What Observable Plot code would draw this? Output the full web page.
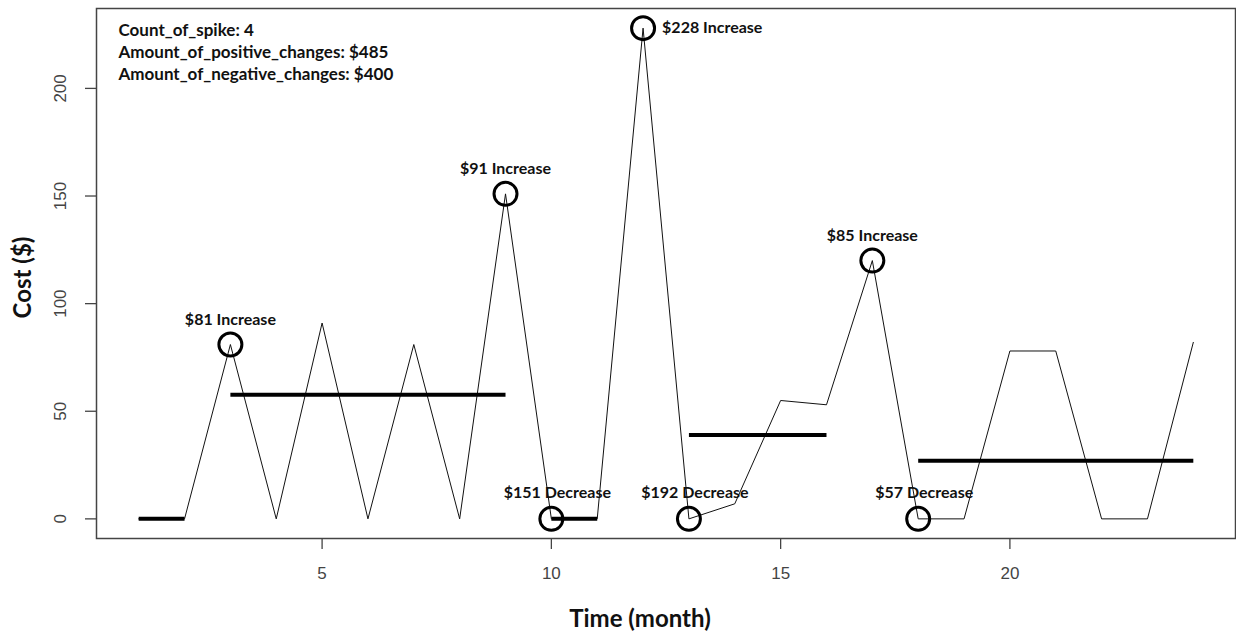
<!DOCTYPE html>
<html>
<head>
<meta charset="utf-8">
<script src="https://cdn.jsdelivr.net/npm/d3@7"></script>
<script src="https://cdn.jsdelivr.net/npm/@observablehq/plot@0.6"></script>
<style>
  html, body { margin: 0; padding: 0; background: #fff; }
  #chart svg { display: block; }
</style>
</head>
<body>
<div id="chart"></div>
<script>
// ---- data ----
const months = [1,2,3,4,5,6,7,8,9,10,11,12,13,14,15,16,17,18,19,20,21,22,23,24];
const cost   = [0,0,81,0,91,0,81,0,151,0,0,228,0,7,55,53,120,0,0,78,78,0,0,82];

const segStart = [1, 3, 10, 13, 18];
const segEnd   = [2, 9, 11, 16, 24];
const segMean  = [0, 57.7, 0, 39, 27];

const incMonth = [3, 9, 12, 17];
const incCost  = [81, 151, 228, 120];
const incLabel = ["$81 Increase", "$91 Increase", "$228 Increase", "$85 Increase"];

const decMonth = [10, 13, 18];
const decCost  = [0, 0, 0];
const decLabel = ["$151 Decrease", "$192 Decrease", "$57 Decrease"];

const summaryLines = [
  "Count_of_spike: 4",
  "Amount_of_positive_changes: $485",
  "Amount_of_negative_changes: $400"
];

const xTicks = [5, 10, 15, 20];
const yTicks = [0, 50, 100, 150, 200];
const xTitle = "Time (month)";
const yTitle = "Cost ($)";

// ---- tables ----
const series = months.map((m, i) => ({month: m, cost: cost[i]}));
const segments = segStart.map((s, i) => ({x1: s, x2: segEnd[i], y: segMean[i]}));
const incs = incMonth.map((m, i) => ({month: m, cost: incCost[i], label: incLabel[i]}));
const decs = decMonth.map((m, i) => ({month: m, cost: decCost[i], label: decLabel[i]}));

// R-style 4% padding
const xPad = (d3.max(months) - d3.min(months)) * 0.04;
const yPad = (d3.max(cost) - d3.min(cost)) * 0.04;

const labelFont = {fontFamily: "Lato, 'Open Sans', sans-serif", fontWeight: "bold", fontSize: 16, fill: "#111"};
const summaryFont = {...labelFont, fontSize: 17};
const titleFont = {fontFamily: "Lato, 'Open Sans', sans-serif", fontWeight: "bold", fontSize: 24, fill: "#111"};
const tickFont = {fontFamily: "'Liberation Sans', Arial, sans-serif", fontSize: 17, fill: "#444"};

const nearTop = d => d.cost > 200;

const chart = Plot.plot({
  width: 1236,
  height: 632,
  marginTop: 8,
  marginBottom: 94,
  marginLeft: 96,
  marginRight: 1,
  x: {domain: [d3.min(months) - xPad, d3.max(months) + xPad], axis: null},
  y: {domain: [d3.min(cost) - yPad, d3.max(cost) + yPad], axis: null},
  marks: [
    Plot.frame({stroke: "#444", strokeWidth: 1.5}),
    // ticks
    Plot.axisX({ticks: xTicks, tickSize: 11, tickFormat: () => "", stroke: "#444", strokeWidth: 1.3}),
    Plot.axisY({ticks: yTicks, tickSize: 11, tickFormat: () => "", stroke: "#444", strokeWidth: 1.3}),
    Plot.text(xTicks, {x: d => d, text: d => String(d), frameAnchor: "bottom", dy: 35, lineAnchor: "middle", ...tickFont}),
    Plot.text(yTicks, {y: d => d, text: d => String(d), frameAnchor: "left", dx: -36, rotate: -90, textAnchor: "middle", lineAnchor: "middle", ...tickFont}),
    // axis titles
    Plot.text([xTitle], {frameAnchor: "bottom", dx: -26, dy: 81, textAnchor: "middle", lineAnchor: "middle", ...titleFont}),
    Plot.text([yTitle], {frameAnchor: "left", dx: -73, dy: 4, rotate: -90, textAnchor: "middle", lineAnchor: "middle", ...titleFont}),
    // series
    Plot.line(series, {x: "month", y: "cost", stroke: "#111", strokeWidth: 1}),
    // segment means
    Plot.link(segments, {x1: "x1", x2: "x2", y1: "y", y2: "y", stroke: "#000", strokeWidth: 4}),
    // spike circles
    Plot.dot(incs, {x: "month", y: "cost", r: 11.5, stroke: "#000", strokeWidth: 3, fill: "none"}),
    Plot.dot(decs, {x: "month", y: "cost", r: 11.5, stroke: "#000", strokeWidth: 3, fill: "none"}),
    // spike labels
    Plot.text(incs.filter(d => !nearTop(d)), {x: "month", y: "cost", text: "label", dy: -25, lineAnchor: "middle", ...labelFont}),
    Plot.text(incs.filter(nearTop), {x: "month", y: "cost", text: "label", dx: 19, textAnchor: "start", lineAnchor: "middle", ...labelFont}),
    Plot.text(decs, {x: "month", y: "cost", text: "label", dx: 6, dy: -26, lineAnchor: "middle", ...labelFont}),
    // summary
    ...summaryLines.map((s, i) => Plot.text([s], {frameAnchor: "top-left", dx: 22, dy: 22 + 22 * i, textAnchor: "start", lineAnchor: "middle", ...summaryFont}))
  ]
});

document.getElementById("chart").appendChild(chart);
</script>
</body>
</html>
